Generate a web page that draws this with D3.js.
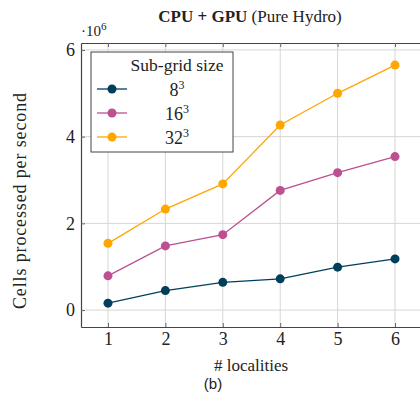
<!DOCTYPE html>
<html>
<head>
<meta charset="utf-8">
<script src="https://cdn.jsdelivr.net/npm/d3@7"></script>
<style>
  body { margin: 0; background: #fff; }
  svg text { font-family: "Liberation Serif", "DejaVu Serif", serif; fill: #222; }
</style>
</head>
<body>
<div id="container"></div>
<script>
// data, values in 10^6 cells per second
var localities = [1, 2, 3, 4, 5, 6];
var cells8  = [0.16, 0.45, 0.64, 0.72, 0.99, 1.18];
var cells16 = [0.79, 1.48, 1.74, 2.76, 3.17, 3.54];
var cells32 = [1.54, 2.33, 2.91, 4.27, 5.00, 5.65];
var seriesNames = ["8", "16", "32"];
var colors = ["#003f5c", "#bc5090", "#ffa600"];
var yTicks = [0, 2, 4, 6];

var W = 420, H = 401;
var serif = "'Liberation Serif', 'DejaVu Serif', serif";
var margin = {top: 43, left: 81, bottom: 74, right: -2};

var svg = d3.select("#container").append("svg")
    .attr("width", W).attr("height", H)
    .style("font-family", serif);

var x = d3.scaleLinear().domain([0.53, 6.47]).range([margin.left, W - margin.right]);
var y = d3.scaleLinear().domain([-0.39, 6.16]).range([H - margin.bottom, margin.top]);

var series = [cells8, cells16, cells32].map(function(vals, i){
  return {name: seriesNames[i], color: colors[i],
    values: vals.map(function(v, j){ return {x: localities[j], y: v}; })};
});

// grid
svg.append("g").selectAll("line").data(localities).enter().append("line")
  .attr("x1", d => x(d)).attr("x2", d => x(d))
  .attr("y1", y.range()[1]).attr("y2", y.range()[0])
  .attr("stroke", "#d6d6d6").attr("stroke-width", 1);
svg.append("g").selectAll("line").data(yTicks).enter().append("line")
  .attr("y1", d => y(d)).attr("y2", d => y(d))
  .attr("x1", x.range()[0]).attr("x2", x.range()[1])
  .attr("stroke", "#d6d6d6").attr("stroke-width", 1);

// axes (box with inward ticks)
var xAxis = d3.axisBottom(x).tickValues(localities).tickFormat(d3.format("d"))
  .tickSizeInner(-4).tickSizeOuter(0).tickPadding(5);
var yAxis = d3.axisLeft(y).tickValues(yTicks).tickFormat(d3.format("d"))
  .tickSizeInner(-4).tickSizeOuter(0).tickPadding(6);

var gx = svg.append("g").attr("transform", "translate(0," + y.range()[0] + ")").call(xAxis);
var gy = svg.append("g").attr("transform", "translate(" + x.range()[0] + ",0)").call(yAxis);
var gxt = svg.append("g").attr("transform", "translate(0," + y.range()[1] + ")")
  .call(d3.axisTop(x).tickValues(localities).tickSizeInner(-4).tickSizeOuter(0).tickFormat(""));

[gx, gy, gxt].forEach(function(g){
  g.attr("font-family", null);
  g.select(".domain").attr("stroke", "#444").attr("stroke-width", 1.2);
  g.selectAll(".tick line").attr("stroke", "#666");
  g.selectAll(".tick text").style("font-family", serif)
    .style("font-size", "18px").attr("fill", "#222");
});

// lines + markers
var line = d3.line().x(d => x(d.x)).y(d => y(d.y));
series.forEach(function(s){
  svg.append("path").datum(s.values)
    .attr("d", line).attr("fill", "none")
    .attr("stroke", s.color).attr("stroke-width", 1.3);
  svg.append("g").selectAll("circle").data(s.values).enter().append("circle")
    .attr("cx", d => x(d.x)).attr("cy", d => y(d.y))
    .attr("r", 4.5).attr("fill", s.color);
});

// legend
var lg = svg.append("g");
lg.append("rect").attr("x", 91).attr("y", 52).attr("width", 142).attr("height", 100)
  .attr("fill", "#fff").attr("stroke", "#444").attr("stroke-width", 1);
lg.append("text").attr("x", 177).attr("y", 71).attr("text-anchor", "middle")
  .style("font-family", serif).style("font-size", "17.5px").text("Sub-grid size");
series.forEach(function(s, i){
  var ly = 89 + i * 24;
  lg.append("line").attr("x1", 97).attr("x2", 127).attr("y1", ly).attr("y2", ly)
    .attr("stroke", s.color).attr("stroke-width", 1.3);
  lg.append("circle").attr("cx", 112).attr("cy", ly).attr("r", 4.5).attr("fill", s.color);
  var t = lg.append("text").attr("x", 177).attr("y", ly + 7).attr("text-anchor", "middle")
    .style("font-family", serif).style("font-size", "18px");
  t.append("tspan").text(s.name);
  t.append("tspan").attr("dy", -7).style("font-size", "12px").text("3");
});

// scale label
var sc = svg.append("text").attr("x", 81).attr("y", 36)
  .style("font-family", serif).style("font-size", "15px");
sc.append("tspan").text("·10");
sc.append("tspan").attr("dy", -6).style("font-size", "11px").text("6");

// title
var tt = svg.append("text").attr("x", 250).attr("y", 22).attr("text-anchor", "middle")
  .style("font-family", serif).style("font-size", "17px");
tt.append("tspan").style("font-weight", "bold").text("CPU + GPU");
tt.append("tspan").text(" (Pure Hydro)");

// axis labels
svg.append("text").attr("transform", "translate(26,201) rotate(-90)")
  .attr("text-anchor", "middle").style("font-family", serif).style("font-size", "18px")
  .attr("textLength", 216).attr("lengthAdjust", "spacing")
  .text("Cells processed per second");
svg.append("text").attr("x", 251).attr("y", 371).attr("text-anchor", "middle")
  .style("font-family", serif).style("font-size", "17px").text("# localities");
svg.append("text").attr("x", 213).attr("y", 389).attr("text-anchor", "middle")
  .style("font-family", "'Liberation Sans', Arial, sans-serif").style("font-size", "15px").text("(b)");
</script>
</body>
</html>
